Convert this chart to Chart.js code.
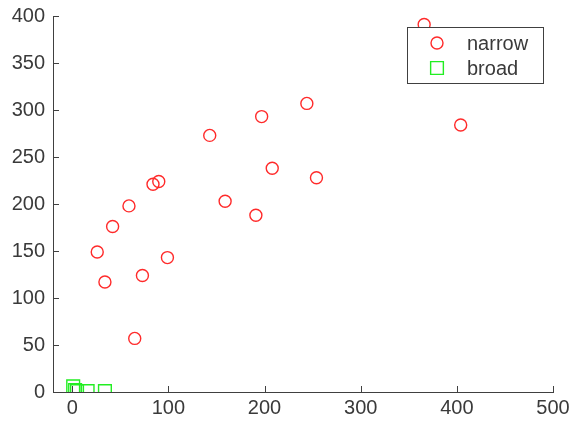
<!DOCTYPE html>
<html>
<head>
<meta charset="utf-8">
<script src="https://cdn.jsdelivr.net/npm/chart.js@4"></script>
<style>
  body { margin: 0; background: #fff; }
</style>
</head>
<body>
<canvas id="myChart" width="570" height="421"></canvas>
<script>
const narrowX = [366, 404, 244, 197, 143, 208, 254, 159, 191, 90, 84, 59, 42, 26, 99, 73, 34, 65];
const narrowY = [391, 284, 307, 293, 273, 238, 228, 203, 188, 224, 221, 198, 176, 149, 143, 124, 117, 57];
const broadX = [1, 3, 5, 16, 34];
const broadY = [6, 2, 1, 1, 1];
const xTicks = [0, 100, 200, 300, 400, 500];
const yTicks = [0, 50, 100, 150, 200, 250, 300, 350, 400];
const seriesNames = ["narrow", "broad"];

const axisColor = "#404040";
const textColor = "#3a3a3a";
const font = { family: "Liberation Sans", size: 20 };

const toPoints = (xs, ys) => xs.map((x, i) => ({ x: x, y: ys[i] }));

// inward tick marks + legend drawn on top of the points (like matlab)
const matlabBits = {
  id: "matlabBits",
  afterDatasetsDraw(chart) {
    const ctx = chart.ctx;
    const area = chart.chartArea;
    const xs = chart.scales.x;
    const ys = chart.scales.y;

    ctx.save();
    ctx.strokeStyle = axisColor;
    ctx.lineWidth = 1;
    ctx.beginPath();
    xTicks.forEach((v) => {
      const px = Math.round(xs.getPixelForValue(v)) + 0.5;
      ctx.moveTo(px, area.bottom);
      ctx.lineTo(px, area.bottom - 6);
    });
    yTicks.forEach((v) => {
      const py = Math.round(ys.getPixelForValue(v)) + 0.5;
      ctx.moveTo(area.left, py);
      ctx.lineTo(area.left + 6, py);
    });
    ctx.stroke();

    // legend box
    const bx = 407, by = 27, bw = 136, bh = 56;
    ctx.fillStyle = "#fff";
    ctx.fillRect(bx, by, bw, bh);
    ctx.strokeStyle = axisColor;
    ctx.strokeRect(bx + 0.5, by + 0.5, bw, bh);

    ctx.font = '20px "Liberation Sans"';
    ctx.textBaseline = "middle";
    chart.data.datasets.forEach((ds, i) => {
      const cy = by + 16 + i * 25;
      ctx.strokeStyle = ds.borderColor;
      ctx.lineWidth = ds.borderWidth;
      ctx.beginPath();
      if (ds.pointStyle === "circle") {
        ctx.arc(437, cy, ds.pointRadius, 0, Math.PI * 2);
      } else {
        const s = Math.SQRT1_2 * ds.pointRadius;
        ctx.rect(437 - s, cy - s, 2 * s, 2 * s);
      }
      ctx.stroke();
      ctx.fillStyle = textColor;
      ctx.fillText(ds.label, 467, cy + 1);
    });
    ctx.restore();
  }
};

new Chart(document.getElementById("myChart"), {
  type: "scatter",
  data: {
    datasets: [
      {
        label: seriesNames[0],
        data: toPoints(narrowX, narrowY),
        pointStyle: "circle",
        pointRadius: 6,
        pointHoverRadius: 6,
        borderColor: "#ff2a2a",
        backgroundColor: "rgba(0,0,0,0)",
        borderWidth: 1.4
      },
      {
        label: seriesNames[1],
        data: toPoints(broadX, broadY),
        pointStyle: "rect",
        pointRadius: 9,
        pointHoverRadius: 9,
        borderColor: "#22ee22",
        backgroundColor: "rgba(0,0,0,0)",
        borderWidth: 1.4
      }
    ]
  },
  options: {
    responsive: false,
    animation: false,
    layout: { padding: { top: 16, right: 17, left: 0, bottom: 0 } },
    plugins: {
      legend: { display: false },
      tooltip: { enabled: false }
    },
    scales: {
      x: {
        type: "linear",
        min: -20,
        max: 500,
        grid: { display: false, drawTicks: false },
        border: { display: true, color: axisColor, width: 1 },
        ticks: { color: textColor, font: font, padding: 4, maxRotation: 0 },
        afterBuildTicks: (scale) => {
          scale.ticks = xTicks.map((v) => ({ value: v }));
        },
        afterFit: (scale) => {
          scale.height = 29;
          scale.paddingLeft = 0;
          scale.paddingRight = 0;
        }
      },
      y: {
        type: "linear",
        min: 0,
        max: 400,
        grid: { display: false, drawTicks: false },
        border: { display: true, color: axisColor, width: 1 },
        ticks: { color: textColor, font: font, padding: 8 },
        afterBuildTicks: (scale) => {
          scale.ticks = yTicks.map((v) => ({ value: v }));
        },
        afterFit: (scale) => {
          scale.width = 53;
          scale.paddingTop = 0;
          scale.paddingBottom = 0;
        }
      }
    }
  },
  plugins: [matlabBits]
});
</script>
</body>
</html>
